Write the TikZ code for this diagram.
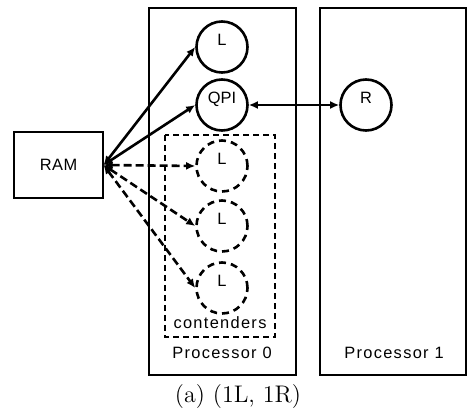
\documentclass[tikz,border=0pt]{standalone}
\usepackage{fontspec}
\newfontfamily\arialfont{Liberation Sans}
\newfontfamily\arialwide[LetterSpace=8]{Liberation Sans}
\newfontfamily\arialmid[LetterSpace=3]{Liberation Sans}
\usetikzlibrary{arrows.meta}
\begin{document}
\begin{tikzpicture}[x=0.5pt, y=-0.5pt,
  frame/.style={draw, line width=0.6pt},
  unit/.style={circle, draw, line width=1.3pt, minimum size=25.5pt, inner sep=0pt,
    text depth=7.5pt, font=\arialfont\fontsize{8.2}{9}\selectfont},
  contender/.style={unit, dash pattern=on 3.5pt off 2.5pt},
  txt/.style={font=\arialwide\fontsize{8.2}{9}\selectfont},
  link/.style={line width=1.3pt, {Latex[length=4.5pt,width=4pt]}-{Latex[length=4.5pt,width=4pt]}}]
\useasboundingbox (0,0) rectangle (467,412);
\coordinate (p0a) at (149,8);
\coordinate (p0b) at (296,375);
\coordinate (p1a) at (320,8);
\coordinate (p1b) at (466,375);
\draw[frame] (p0a) rectangle (p0b);
\draw[frame] (p1a) rectangle (p1b);
\draw[line width=0.6pt, dash pattern=on 3pt off 2pt] (165,135) rectangle (275,337);
\node[frame, font=\arialmid\fontsize{8.2}{9}\selectfont, minimum width=44.5pt,
  minimum height=33pt] (ram) at (58.5,165) {RAM};
\node[unit] (l0) at (222,47) {L};
\node[unit] (qpi) at (222,105) {QPI};
\node[unit] (r) at (366,105) {R};
\node[contender] (l1) at (222,166) {L};
\node[contender] (l2) at (222,226) {L};
\node[contender] (l3) at (222,288) {L};
\node[txt] (cont) at (220,323) {contenders};
\node[txt] (proc0) at (222,353) {Processor 0};
\node[txt] (proc1) at (394,353) {Processor 1};
\node[font=\fontsize{12}{14}\selectfont] (cap) at (238,397) {(a) (1L, 1R)};
\draw[link] (ram.east) -- (l0.west);
\draw[link] (ram.east) -- (qpi.west);
\draw[link] (qpi.east) -- (r.west);
\draw[link, dash pattern=on 4pt off 2pt] (ram.east) -- (l1.west);
\draw[link, dash pattern=on 4pt off 2pt] (ram.east) -- (l2.west);
\draw[link, dash pattern=on 4pt off 2pt] (ram.east) -- (l3.west);
\end{tikzpicture}
\end{document}
